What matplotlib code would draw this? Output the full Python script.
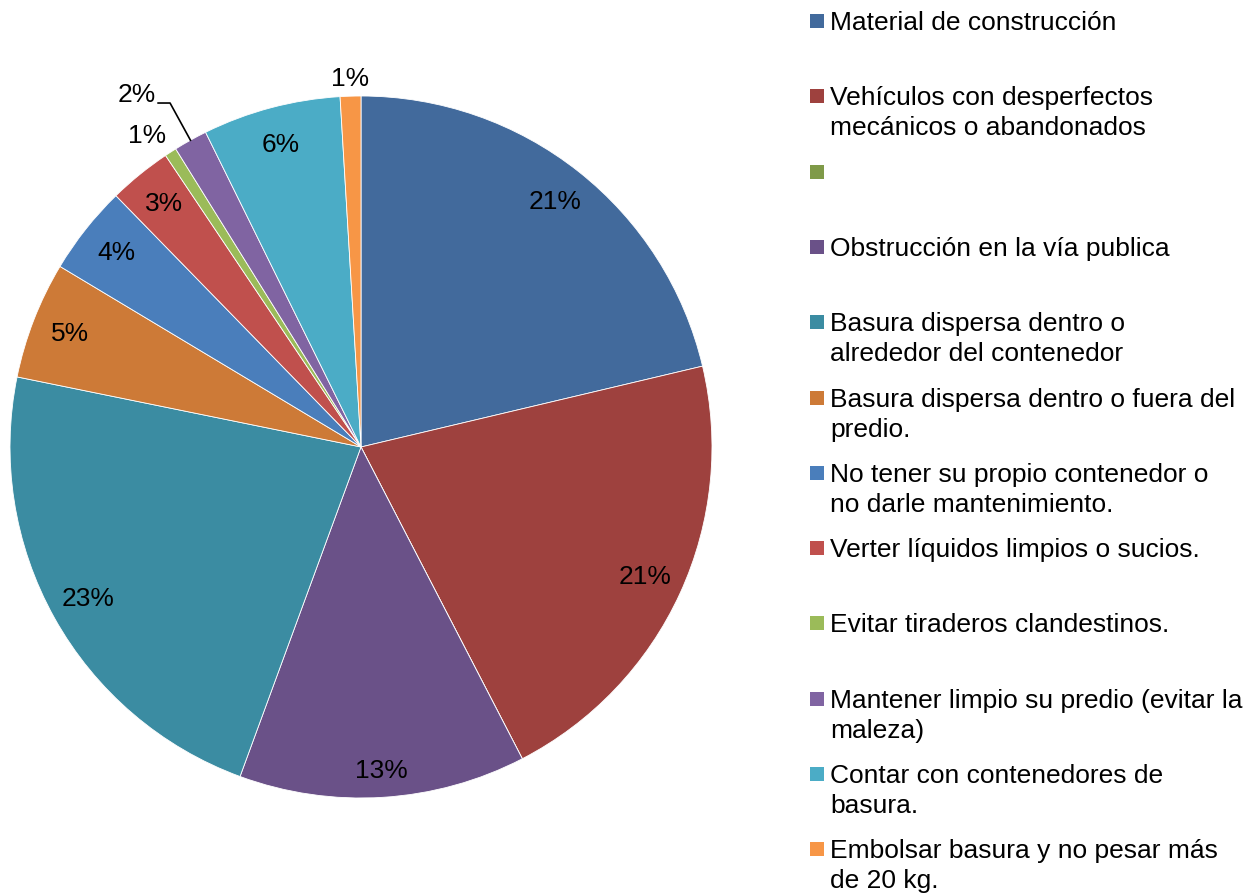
import matplotlib
matplotlib.use("Agg")
import matplotlib.pyplot as plt
import numpy as np

plt.rcParams['font.family'] = ['Liberation Sans', 'DejaVu Sans']

categories = [
    "Material de construcción",
    "Vehículos con desperfectos\nmecánicos o abandonados",
    "",
    "Obstrucción en la vía publica",
    "Basura dispersa dentro o\nalrededor del contenedor",
    "Basura dispersa dentro o fuera del\npredio.",
    "No tener su propio contenedor o\nno darle mantenimiento.",
    "Verter líquidos limpios o sucios.",
    "Evitar tiraderos clandestinos.",
    "Mantener limpio su predio (evitar la\nmaleza)",
    "Contar con contenedores de\nbasura.",
    "Embolsar basura y no pesar más\nde 20 kg.",
]
values = [21.3, 21.1, 0.0, 13.2, 22.6, 5.4, 4.1, 2.9, 0.55, 1.55, 6.35, 0.95]
colors = ["#426A9C", "#9E413E", "#7F9A48", "#6A5188", "#3B8CA2", "#CD7A37",
          "#4A7EBB", "#C0504D", "#9BBB59", "#8064A2", "#4BACC6", "#F79646"]

W, H = 1257, 894
fig = plt.figure(figsize=(W / 100, H / 100), dpi=100)

cx, cy, R = 361, 447, 351
ax = fig.add_axes([(cx - R) / W, (H - cy - R) / H, 2 * R / W, 2 * R / H])
wedges, _ = ax.pie(values, colors=colors, startangle=90, counterclock=False,
                   radius=1.0, wedgeprops=dict(edgecolor="white", linewidth=0.6))
ax.set_xlim(-1, 1)
ax.set_ylim(-1, 1)
ax.set_aspect("equal")
ax.axis("off")

total = sum(values)
fs = 19
for i, (w, v) in enumerate(zip(wedges, values)):
    if v <= 0:
        continue
    pct = int(v / total * 100 + 0.5)
    lab = f"{pct}%"
    mid = np.deg2rad((w.theta1 + w.theta2) / 2)
    dx, dy = np.cos(mid), np.sin(mid)
    if v >= 2.5:
        r = 0.925 if abs(dy) > 0.95 and dy < 0 else 0.89
        ax.text(r * dx, r * dy, lab, ha="center", va="center", fontsize=fs)
    elif i == 9:
        tx, ty = -0.64, 1.004
        ax.text(tx, ty, lab, ha="center", va="center", fontsize=fs, clip_on=False)
        ax.plot([tx + 0.062, tx + 0.096, dx * 1.0], [ty - 0.024, ty - 0.024, dy * 1.0],
                color="black", lw=1.2, clip_on=False)
    elif i == 8:
        ax.text(dx * 1.08 - 0.025, dy * 1.08 - 0.02, lab, ha="center", va="center",
                fontsize=fs, clip_on=False)
    else:
        ax.text(dx * 1.05, dy * 1.05, lab, ha="center", va="center",
                fontsize=fs, clip_on=False)

# Legend
lax = fig.add_axes([0, 0, 1, 1])
lax.set_xlim(0, W)
lax.set_ylim(H, 0)
lax.axis("off")
y0, step = 21, 75.3
for i, (cat, col) in enumerate(zip(categories, colors)):
    y = y0 + step * i
    lax.add_patch(plt.Rectangle((810, y - 7), 14, 14, facecolor=col, edgecolor="none"))
    for k, line in enumerate(cat.split("\n")):
        lax.text(830, y + 30 * k + 9, line, ha="left", va="baseline", fontsize=fs)

fig.savefig("out.png", dpi=100)
